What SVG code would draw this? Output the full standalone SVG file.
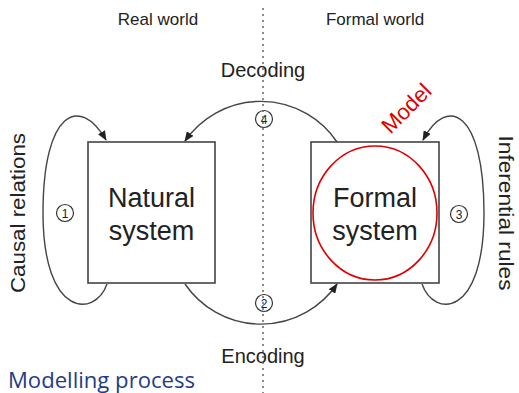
<svg xmlns="http://www.w3.org/2000/svg" width="519" height="393" viewBox="0 0 519 393">
  <style>
    .lbl { font-family: "Liberation Sans", Arial, sans-serif; fill: #222; }
    .box { fill: #fff; stroke: #444; stroke-width: 1.6; }
    .conn { fill: none; stroke: #444; stroke-width: 1.4; }
    .num { fill: #fff; stroke: #333; stroke-width: 1.2; }
    .numt { font-family: "Liberation Sans", Arial, sans-serif; font-size: 12px; fill: #222; text-anchor: middle; }
  </style>
  <defs>
    <marker id="arr" viewBox="0 0 10 8" refX="9" refY="4" markerWidth="10" markerHeight="8" markerUnits="userSpaceOnUse" orient="auto">
      <path d="M0,0 L10,4 L0,8 Z" fill="#222"/>
    </marker>
  </defs>
  <rect width="519" height="393" fill="#fff"/>

  <text class="lbl" x="158" y="25" font-size="17" text-anchor="middle">Real world</text>
  <text class="lbl" x="375" y="25" font-size="17" text-anchor="middle">Formal world</text>
  <text class="lbl" x="263" y="77" font-size="20" text-anchor="middle">Decoding</text>
  <text class="lbl" x="263" y="363" font-size="20" text-anchor="middle">Encoding</text>
  <text class="lbl" transform="translate(25,213) rotate(-90)" font-size="21" text-anchor="middle" textLength="160" lengthAdjust="spacingAndGlyphs">Causal relations</text>
  <text class="lbl" transform="translate(499,213) rotate(90)" font-size="20" text-anchor="middle" textLength="155" lengthAdjust="spacingAndGlyphs">Inferential rules</text>

  <g id="connectors">
    <path class="conn" d="M107,284 C95,318 43,318 43,213 C43,110 80,95 106,140" marker-end="url(#arr)"/>
    <path class="conn" d="M422,284 C434,318 484,318 484,213 C484,110 447,95 423,140" marker-end="url(#arr)"/>
    <path class="conn" d="M337,142 A92,92 0 0 0 185,141" marker-end="url(#arr)"/>
    <path class="conn" d="M185,284 A92,92 0 0 0 337,284" marker-end="url(#arr)"/>
  </g>

  <g id="natural-system">
    <rect class="box" x="88" y="142" width="127" height="141"/>
    <text class="lbl" x="151.5" y="207" font-size="27" text-anchor="middle">Natural</text>
    <text class="lbl" x="151.5" y="240" font-size="27" text-anchor="middle">system</text>
  </g>

  <g id="formal-system">
    <rect class="box" x="311" y="142" width="128" height="141"/>
    <ellipse cx="375" cy="213" rx="62" ry="67" fill="none" stroke="#e00000" stroke-width="1.6"/>
    <text class="lbl" x="375" y="207" font-size="27" text-anchor="middle">Formal</text>
    <text class="lbl" x="375" y="240" font-size="27" text-anchor="middle">system</text>
  </g>

  <g id="model-label">
    <text transform="translate(406,108) rotate(-45)" y="8" font-family="Liberation Sans, Arial, sans-serif" font-size="22" fill="#e00000" text-anchor="middle">Model</text>
  </g>

  <g id="step-1"><circle class="num" cx="65" cy="213" r="8.5"/><text class="numt" x="65" y="217.5">1</text></g>
  <g id="step-2"><circle class="num" cx="264" cy="303" r="8.5"/><text class="numt" x="264" y="307.5">2</text></g>
  <g id="step-3"><circle class="num" cx="459" cy="214" r="8.5"/><text class="numt" x="459" y="218.5">3</text></g>
  <g id="step-4"><circle class="num" cx="264" cy="119" r="8.5"/><text class="numt" x="264" y="123.5">4</text></g>

  <line x1="263" y1="8" x2="263" y2="393" stroke="#666" stroke-width="1.5" stroke-dasharray="2 4"/>

  <text x="8" y="388" font-family="Open Sans, Noto Sans, sans-serif" font-size="21" fill="#1f3c88" textLength="187" lengthAdjust="spacingAndGlyphs">Modelling process</text>
</svg>
